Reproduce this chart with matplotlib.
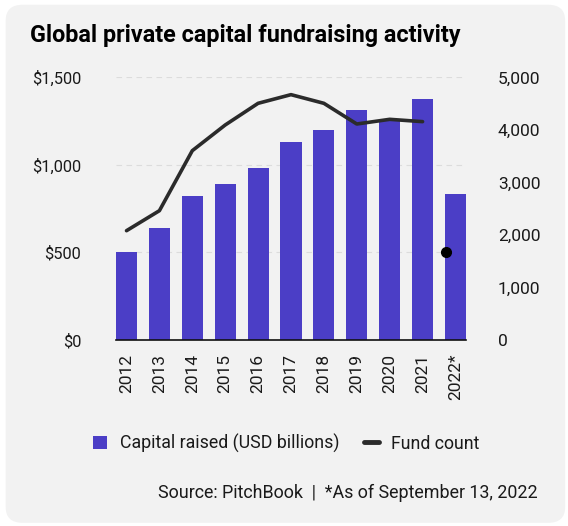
import numpy as np
import matplotlib.pyplot as plt
from matplotlib.patches import FancyBboxPatch
from matplotlib.lines import Line2D
from matplotlib.patches import Patch
from matplotlib.ticker import FuncFormatter

# Data ==============================================
years = ['2012', '2013', '2014', '2015', '2016', '2017', '2018', '2019', '2020', '2021', '2022*']
capital = [500, 638, 823, 891, 983, 1131, 1200, 1314, 1258, 1375, 833]  # USD billions
fund_count = [2082, 2463, 3606, 4095, 4508, 4673, 4508, 4114, 4203, 4159]  # 2012-2021
fund_count_2022 = 1670

# Styles
bar_col = '#4B3EC6'
line_col = '#2b2b2b'
bg_col = '#f2f2f2'
txt_col = '#1a1a1a'

plt.rcParams['font.family'] = ['Roboto', 'DejaVu Sans']

fig = plt.figure(figsize=(5.68, 5.26), dpi=100)
fig.patch.set_facecolor('white')

# rounded grey card behind everything
card = FancyBboxPatch((0.01, 0.006), 0.985, 0.985, boxstyle='round,pad=0,rounding_size=0.03',
                      transform=fig.transFigure, facecolor=bg_col, edgecolor='none', zorder=-5)
fig.add_artist(card)

ax = fig.add_axes([0.2042, 0.3536, 0.6162, 0.4991])
ax.set_facecolor('none')
x = np.arange(len(years))

ax.bar(x, capital, width=0.64, color=bar_col, zorder=2)
ax.set_xlim(-0.32, len(years) - 1 + 0.32)
ax.set_ylim(0, 1500)
ax.set_yticks([0, 500, 1000, 1500])
ax.yaxis.set_major_formatter(FuncFormatter(lambda v, p: '${:,.0f}'.format(v)))
ax.set_xticks(x)
ax.set_xticklabels(years, rotation=90)

# grid
for v in [500, 1000, 1500]:
    ax.axhline(v, color='#dcdcdc', lw=0.8, ls=(0, (5, 4)), zorder=1)

for s in ['top', 'right', 'left']:
    ax.spines[s].set_visible(False)
ax.spines['bottom'].set_color('#111111')
ax.spines['bottom'].set_linewidth(1.2)
ax.tick_params(axis='x', length=0, labelsize=12.5, colors=txt_col, pad=10)
ax.tick_params(axis='y', length=0, labelsize=11.8, colors=txt_col, pad=25)

# Right axis - fund count
ax2 = ax.twinx()
ax2.plot(x[:len(fund_count)], fund_count, color=line_col, lw=2.6, zorder=3, solid_capstyle='round')
ax2.plot(x[-1] - 0.28, fund_count_2022, 'o', color='black', ms=7, zorder=4)
ax2.set_ylim(0, 5000)
ax2.set_yticks([0, 1000, 2000, 3000, 4000, 5000])
ax2.yaxis.set_major_formatter(FuncFormatter(lambda v, p: '{:,.0f}'.format(v)))
for s in ['top', 'right', 'left', 'bottom']:
    ax2.spines[s].set_visible(False)
ax2.tick_params(axis='y', length=0, labelsize=12.5, colors=txt_col, pad=23)

# Title
fig.text(0.053, 0.932, 'Global private capital fundraising activity', fontsize=16.8,
         fontweight='bold', color='black', ha='left', va='center')

# Legend
handles = [Patch(facecolor=bar_col, edgecolor='none'),
           Line2D([0], [0], color=line_col, lw=3.5, solid_capstyle='round')]
fig.legend(handles, ['Capital raised (USD billions)', 'Fund count'],
           loc='center', bbox_to_anchor=(0.504, 0.157), ncol=2, frameon=False,
           fontsize=12.8, handlelength=0.8, handleheight=0.8, handletextpad=0.7,
           columnspacing=1.4, labelcolor=txt_col)

# Source
fig.text(0.947, 0.063, 'Source: PitchBook  |  *As of September 13, 2022', fontsize=12.9,
         color=txt_col, ha='right', va='center')

fig.savefig('out.png', dpi=100, facecolor=fig.get_facecolor())
